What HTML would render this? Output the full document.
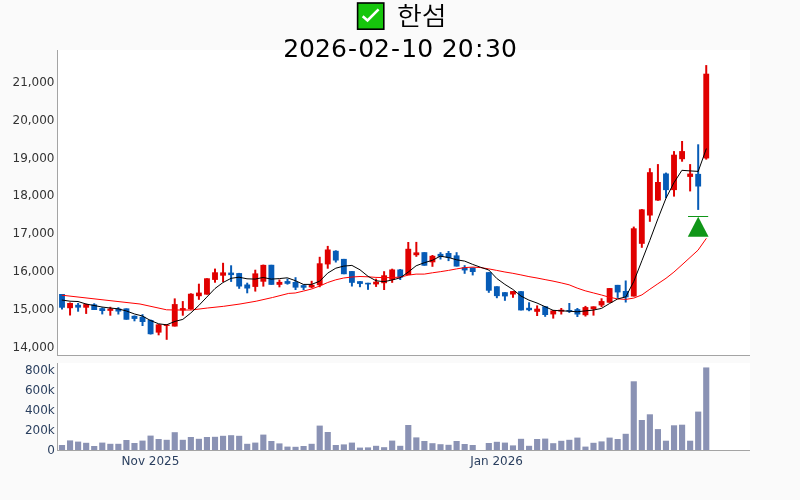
<!DOCTYPE html>
<html lang="ko"><head><meta charset="utf-8"><title>한섬</title>
<style>html,body{margin:0;padding:0;background:#fafafa;}body{width:800px;height:500px;overflow:hidden;}svg{display:block;}text{font-family:"DejaVu Sans","Liberation Sans","Noto Sans CJK KR",sans-serif;}</style></head><body>
<svg width="800" height="500" viewBox="0 0 800 500">
<rect x="0" y="0" width="800" height="500" fill="#fafafa"/>
<rect x="58" y="50" width="692" height="305" fill="#fff"/>
<rect x="58" y="363" width="692" height="87" fill="#fff"/>
<g fill="#8a92b4" shape-rendering="auto">
<rect x="58.93" y="445.00" width="6.14" height="5.00"/>
<rect x="66.98" y="440.40" width="6.14" height="9.60"/>
<rect x="75.04" y="441.60" width="6.14" height="8.40"/>
<rect x="83.09" y="442.80" width="6.14" height="7.20"/>
<rect x="91.14" y="446.00" width="6.14" height="4.00"/>
<rect x="99.20" y="442.60" width="6.14" height="7.40"/>
<rect x="107.25" y="443.80" width="6.14" height="6.20"/>
<rect x="115.30" y="443.80" width="6.14" height="6.20"/>
<rect x="123.35" y="440.00" width="6.14" height="10.00"/>
<rect x="131.41" y="443.00" width="6.14" height="7.00"/>
<rect x="139.46" y="440.60" width="6.14" height="9.40"/>
<rect x="147.51" y="435.60" width="6.14" height="14.40"/>
<rect x="155.57" y="439.00" width="6.14" height="11.00"/>
<rect x="163.62" y="439.80" width="6.14" height="10.20"/>
<rect x="171.67" y="432.20" width="6.14" height="17.80"/>
<rect x="179.73" y="439.80" width="6.14" height="10.20"/>
<rect x="187.78" y="437.00" width="6.14" height="13.00"/>
<rect x="195.83" y="438.80" width="6.14" height="11.20"/>
<rect x="203.88" y="437.00" width="6.14" height="13.00"/>
<rect x="211.94" y="436.80" width="6.14" height="13.20"/>
<rect x="219.99" y="435.80" width="6.14" height="14.20"/>
<rect x="228.04" y="435.20" width="6.14" height="14.80"/>
<rect x="236.10" y="435.80" width="6.14" height="14.20"/>
<rect x="244.15" y="443.80" width="6.14" height="6.20"/>
<rect x="252.20" y="442.60" width="6.14" height="7.40"/>
<rect x="260.26" y="434.60" width="6.14" height="15.40"/>
<rect x="268.31" y="441.00" width="6.14" height="9.00"/>
<rect x="276.36" y="443.40" width="6.14" height="6.60"/>
<rect x="284.41" y="446.60" width="6.14" height="3.40"/>
<rect x="292.47" y="446.80" width="6.14" height="3.20"/>
<rect x="300.52" y="446.00" width="6.14" height="4.00"/>
<rect x="308.57" y="443.80" width="6.14" height="6.20"/>
<rect x="316.63" y="425.60" width="6.14" height="24.40"/>
<rect x="324.68" y="432.00" width="6.14" height="18.00"/>
<rect x="332.73" y="445.00" width="6.14" height="5.00"/>
<rect x="340.79" y="444.40" width="6.14" height="5.60"/>
<rect x="348.84" y="442.60" width="6.14" height="7.40"/>
<rect x="356.89" y="447.60" width="6.14" height="2.40"/>
<rect x="364.94" y="447.40" width="6.14" height="2.60"/>
<rect x="373.00" y="445.80" width="6.14" height="4.20"/>
<rect x="381.05" y="447.20" width="6.14" height="2.80"/>
<rect x="389.10" y="440.60" width="6.14" height="9.40"/>
<rect x="397.16" y="445.80" width="6.14" height="4.20"/>
<rect x="405.21" y="425.00" width="6.14" height="25.00"/>
<rect x="413.26" y="437.40" width="6.14" height="12.60"/>
<rect x="421.32" y="441.00" width="6.14" height="9.00"/>
<rect x="429.37" y="443.20" width="6.14" height="6.80"/>
<rect x="437.42" y="444.20" width="6.14" height="5.80"/>
<rect x="445.47" y="444.80" width="6.14" height="5.20"/>
<rect x="453.53" y="441.00" width="6.14" height="9.00"/>
<rect x="461.58" y="444.00" width="6.14" height="6.00"/>
<rect x="469.63" y="445.00" width="6.14" height="5.00"/>
<rect x="485.74" y="443.00" width="6.14" height="7.00"/>
<rect x="493.79" y="441.80" width="6.14" height="8.20"/>
<rect x="501.85" y="442.60" width="6.14" height="7.40"/>
<rect x="509.90" y="445.40" width="6.14" height="4.60"/>
<rect x="517.95" y="438.80" width="6.14" height="11.20"/>
<rect x="526.00" y="445.80" width="6.14" height="4.20"/>
<rect x="534.06" y="439.00" width="6.14" height="11.00"/>
<rect x="542.11" y="438.60" width="6.14" height="11.40"/>
<rect x="550.16" y="443.20" width="6.14" height="6.80"/>
<rect x="558.22" y="440.80" width="6.14" height="9.20"/>
<rect x="566.27" y="439.80" width="6.14" height="10.20"/>
<rect x="574.32" y="437.60" width="6.14" height="12.40"/>
<rect x="582.38" y="446.60" width="6.14" height="3.40"/>
<rect x="590.43" y="442.80" width="6.14" height="7.20"/>
<rect x="598.48" y="441.40" width="6.14" height="8.60"/>
<rect x="606.53" y="437.60" width="6.14" height="12.40"/>
<rect x="614.59" y="439.00" width="6.14" height="11.00"/>
<rect x="622.64" y="433.80" width="6.14" height="16.20"/>
<rect x="630.69" y="381.30" width="6.14" height="68.70"/>
<rect x="638.75" y="420.00" width="6.14" height="30.00"/>
<rect x="646.80" y="414.30" width="6.14" height="35.70"/>
<rect x="654.85" y="429.10" width="6.14" height="20.90"/>
<rect x="662.90" y="440.70" width="6.14" height="9.30"/>
<rect x="670.96" y="425.30" width="6.14" height="24.70"/>
<rect x="679.01" y="424.70" width="6.14" height="25.30"/>
<rect x="687.06" y="440.70" width="6.14" height="9.30"/>
<rect x="695.12" y="411.60" width="6.14" height="38.40"/>
<rect x="703.17" y="367.45" width="6.14" height="82.55"/>
</g>
<g stroke="#a4a4a4" stroke-width="1" fill="none">
<path d="M57.5,50V355.5"/><path d="M57.5,363V450.5"/><path d="M57,355.5H750"/><path d="M57,450.5H750"/>
</g>
<path d="M62.00,294.00V309.50" stroke="#065bb6" stroke-width="2" fill="none"/>
<rect x="59.08" y="294.00" width="5.85" height="13.70" fill="#065bb6"/>
<path d="M70.05,302.50V315.50" stroke="#e00000" stroke-width="2" fill="none"/>
<rect x="67.13" y="303.00" width="5.85" height="5.20" fill="#e00000"/>
<path d="M78.11,303.00V311.70" stroke="#065bb6" stroke-width="2" fill="none"/>
<rect x="75.18" y="304.80" width="5.85" height="2.80" fill="#065bb6"/>
<path d="M86.16,303.80V313.90" stroke="#e00000" stroke-width="2" fill="none"/>
<rect x="83.23" y="304.10" width="5.85" height="3.60" fill="#e00000"/>
<path d="M94.21,303.30V310.00" stroke="#065bb6" stroke-width="2" fill="none"/>
<rect x="91.29" y="304.40" width="5.85" height="5.60" fill="#065bb6"/>
<path d="M102.27,307.40V314.40" stroke="#065bb6" stroke-width="2" fill="none"/>
<rect x="99.34" y="308.20" width="5.85" height="2.80" fill="#065bb6"/>
<path d="M110.32,306.80V315.70" stroke="#e00000" stroke-width="2" fill="none"/>
<rect x="107.39" y="308.60" width="5.85" height="2.20" fill="#e00000"/>
<path d="M118.37,307.20V314.50" stroke="#065bb6" stroke-width="2" fill="none"/>
<rect x="115.45" y="308.60" width="5.85" height="2.90" fill="#065bb6"/>
<path d="M126.42,308.40V319.70" stroke="#065bb6" stroke-width="2" fill="none"/>
<rect x="123.50" y="308.40" width="5.85" height="11.30" fill="#065bb6"/>
<path d="M134.48,315.50V321.30" stroke="#065bb6" stroke-width="2" fill="none"/>
<rect x="131.55" y="315.80" width="5.85" height="3.10" fill="#065bb6"/>
<path d="M142.53,314.20V326.00" stroke="#065bb6" stroke-width="2" fill="none"/>
<rect x="139.60" y="316.80" width="5.85" height="5.20" fill="#065bb6"/>
<path d="M150.58,319.50V334.50" stroke="#065bb6" stroke-width="2" fill="none"/>
<rect x="147.66" y="320.00" width="5.85" height="14.20" fill="#065bb6"/>
<path d="M158.64,324.10V335.30" stroke="#e00000" stroke-width="2" fill="none"/>
<rect x="155.71" y="324.40" width="5.85" height="8.20" fill="#e00000"/>
<path d="M166.69,324.20V339.80" stroke="#e00000" stroke-width="2" fill="none"/>
<rect x="163.76" y="324.60" width="5.85" height="1.30" fill="#e00000"/>
<path d="M174.74,298.40V326.50" stroke="#e00000" stroke-width="2" fill="none"/>
<rect x="171.82" y="304.10" width="5.85" height="22.40" fill="#e00000"/>
<path d="M182.80,301.10V315.70" stroke="#e00000" stroke-width="2" fill="none"/>
<rect x="179.87" y="308.10" width="5.85" height="2.30" fill="#e00000"/>
<path d="M190.85,293.30V309.70" stroke="#e00000" stroke-width="2" fill="none"/>
<rect x="187.92" y="293.75" width="5.85" height="15.45" fill="#e00000"/>
<path d="M198.90,283.70V299.80" stroke="#e00000" stroke-width="2" fill="none"/>
<rect x="195.98" y="292.60" width="5.85" height="3.60" fill="#e00000"/>
<path d="M206.95,278.30V294.60" stroke="#e00000" stroke-width="2" fill="none"/>
<rect x="204.03" y="278.30" width="5.85" height="16.30" fill="#e00000"/>
<path d="M215.01,268.60V282.70" stroke="#e00000" stroke-width="2" fill="none"/>
<rect x="212.08" y="272.30" width="5.85" height="7.60" fill="#e00000"/>
<path d="M223.06,262.80V282.00" stroke="#e00000" stroke-width="2" fill="none"/>
<rect x="220.13" y="272.40" width="5.85" height="3.30" fill="#e00000"/>
<path d="M231.11,265.30V281.90" stroke="#065bb6" stroke-width="2" fill="none"/>
<rect x="228.19" y="272.60" width="5.85" height="2.50" fill="#065bb6"/>
<path d="M239.17,272.90V288.80" stroke="#065bb6" stroke-width="2" fill="none"/>
<rect x="236.24" y="273.10" width="5.85" height="13.40" fill="#065bb6"/>
<path d="M247.22,282.70V293.30" stroke="#065bb6" stroke-width="2" fill="none"/>
<rect x="244.29" y="284.50" width="5.85" height="4.00" fill="#065bb6"/>
<path d="M255.27,269.70V291.60" stroke="#e00000" stroke-width="2" fill="none"/>
<rect x="252.35" y="273.40" width="5.85" height="13.50" fill="#e00000"/>
<path d="M263.33,264.60V286.60" stroke="#e00000" stroke-width="2" fill="none"/>
<rect x="260.40" y="264.90" width="5.85" height="16.80" fill="#e00000"/>
<path d="M271.38,264.80V284.80" stroke="#065bb6" stroke-width="2" fill="none"/>
<rect x="268.45" y="264.80" width="5.85" height="20.00" fill="#065bb6"/>
<path d="M279.43,279.50V287.30" stroke="#e00000" stroke-width="2" fill="none"/>
<rect x="276.51" y="281.90" width="5.85" height="2.90" fill="#e00000"/>
<path d="M287.48,278.60V284.60" stroke="#065bb6" stroke-width="2" fill="none"/>
<rect x="284.56" y="281.10" width="5.85" height="2.70" fill="#065bb6"/>
<path d="M295.54,277.20V290.00" stroke="#065bb6" stroke-width="2" fill="none"/>
<rect x="292.61" y="282.00" width="5.85" height="5.60" fill="#065bb6"/>
<path d="M303.59,284.40V290.10" stroke="#065bb6" stroke-width="2" fill="none"/>
<rect x="300.67" y="285.20" width="5.85" height="2.50" fill="#065bb6"/>
<path d="M311.64,280.80V288.20" stroke="#e00000" stroke-width="2" fill="none"/>
<rect x="308.72" y="284.80" width="5.85" height="2.60" fill="#e00000"/>
<path d="M319.70,256.80V287.20" stroke="#e00000" stroke-width="2" fill="none"/>
<rect x="316.77" y="263.30" width="5.85" height="21.90" fill="#e00000"/>
<path d="M327.75,245.90V268.70" stroke="#e00000" stroke-width="2" fill="none"/>
<rect x="324.82" y="249.50" width="5.85" height="14.90" fill="#e00000"/>
<path d="M335.80,250.30V262.50" stroke="#065bb6" stroke-width="2" fill="none"/>
<rect x="332.88" y="250.80" width="5.85" height="9.70" fill="#065bb6"/>
<path d="M343.86,258.90V274.20" stroke="#065bb6" stroke-width="2" fill="none"/>
<rect x="340.93" y="258.90" width="5.85" height="15.30" fill="#065bb6"/>
<path d="M351.91,271.10V286.50" stroke="#065bb6" stroke-width="2" fill="none"/>
<rect x="348.98" y="271.10" width="5.85" height="11.70" fill="#065bb6"/>
<path d="M359.96,281.20V287.20" stroke="#065bb6" stroke-width="2" fill="none"/>
<rect x="357.04" y="281.20" width="5.85" height="2.70" fill="#065bb6"/>
<path d="M368.01,282.80V289.80" stroke="#065bb6" stroke-width="2" fill="none"/>
<rect x="365.09" y="282.80" width="5.85" height="1.60" fill="#065bb6"/>
<path d="M376.07,278.70V286.90" stroke="#e00000" stroke-width="2" fill="none"/>
<rect x="373.14" y="281.70" width="5.85" height="2.70" fill="#e00000"/>
<path d="M384.12,271.20V290.00" stroke="#e00000" stroke-width="2" fill="none"/>
<rect x="381.19" y="275.30" width="5.85" height="7.90" fill="#e00000"/>
<path d="M392.17,268.70V282.80" stroke="#e00000" stroke-width="2" fill="none"/>
<rect x="389.25" y="269.50" width="5.85" height="10.30" fill="#e00000"/>
<path d="M400.23,269.00V280.00" stroke="#065bb6" stroke-width="2" fill="none"/>
<rect x="397.30" y="269.50" width="5.85" height="8.10" fill="#065bb6"/>
<path d="M408.28,242.00V275.00" stroke="#e00000" stroke-width="2" fill="none"/>
<rect x="405.35" y="248.80" width="5.85" height="26.20" fill="#e00000"/>
<path d="M416.33,241.90V256.80" stroke="#e00000" stroke-width="2" fill="none"/>
<rect x="413.41" y="252.40" width="5.85" height="2.80" fill="#e00000"/>
<path d="M424.39,252.20V265.70" stroke="#065bb6" stroke-width="2" fill="none"/>
<rect x="421.46" y="252.20" width="5.85" height="13.50" fill="#065bb6"/>
<path d="M432.44,255.00V266.80" stroke="#e00000" stroke-width="2" fill="none"/>
<rect x="429.51" y="255.80" width="5.85" height="6.50" fill="#e00000"/>
<path d="M440.49,252.20V259.50" stroke="#065bb6" stroke-width="2" fill="none"/>
<rect x="437.57" y="253.90" width="5.85" height="2.90" fill="#065bb6"/>
<path d="M448.54,251.00V261.10" stroke="#065bb6" stroke-width="2" fill="none"/>
<rect x="445.62" y="253.00" width="5.85" height="4.90" fill="#065bb6"/>
<path d="M456.60,252.20V266.50" stroke="#065bb6" stroke-width="2" fill="none"/>
<rect x="453.67" y="255.40" width="5.85" height="11.10" fill="#065bb6"/>
<path d="M464.65,265.20V273.80" stroke="#065bb6" stroke-width="2" fill="none"/>
<rect x="461.73" y="267.30" width="5.85" height="3.10" fill="#065bb6"/>
<path d="M472.70,267.60V275.40" stroke="#065bb6" stroke-width="2" fill="none"/>
<rect x="469.78" y="267.60" width="5.85" height="4.40" fill="#065bb6"/>
<path d="M488.81,272.20V292.80" stroke="#065bb6" stroke-width="2" fill="none"/>
<rect x="485.88" y="272.20" width="5.85" height="18.50" fill="#065bb6"/>
<path d="M496.86,286.30V298.20" stroke="#065bb6" stroke-width="2" fill="none"/>
<rect x="493.94" y="286.30" width="5.85" height="9.80" fill="#065bb6"/>
<path d="M504.92,292.20V300.80" stroke="#065bb6" stroke-width="2" fill="none"/>
<rect x="501.99" y="292.20" width="5.85" height="4.20" fill="#065bb6"/>
<path d="M512.97,291.10V297.80" stroke="#e00000" stroke-width="2" fill="none"/>
<rect x="510.04" y="291.10" width="5.85" height="3.40" fill="#e00000"/>
<path d="M521.02,291.20V310.40" stroke="#065bb6" stroke-width="2" fill="none"/>
<rect x="518.10" y="291.20" width="5.85" height="19.20" fill="#065bb6"/>
<path d="M529.07,302.30V311.20" stroke="#065bb6" stroke-width="2" fill="none"/>
<rect x="526.15" y="307.80" width="5.85" height="2.40" fill="#065bb6"/>
<path d="M537.13,305.40V316.00" stroke="#e00000" stroke-width="2" fill="none"/>
<rect x="534.20" y="308.70" width="5.85" height="3.10" fill="#e00000"/>
<path d="M545.18,306.30V316.80" stroke="#065bb6" stroke-width="2" fill="none"/>
<rect x="542.26" y="306.30" width="5.85" height="8.70" fill="#065bb6"/>
<path d="M553.23,310.00V318.60" stroke="#e00000" stroke-width="2" fill="none"/>
<rect x="550.31" y="310.50" width="5.85" height="3.90" fill="#e00000"/>
<path d="M561.29,308.00V314.50" stroke="#e00000" stroke-width="2" fill="none"/>
<rect x="558.36" y="309.70" width="5.85" height="1.90" fill="#e00000"/>
<path d="M569.34,303.00V312.90" stroke="#065bb6" stroke-width="2" fill="none"/>
<rect x="566.41" y="310.00" width="5.85" height="1.60" fill="#065bb6"/>
<path d="M577.39,308.00V317.00" stroke="#065bb6" stroke-width="2" fill="none"/>
<rect x="574.47" y="309.20" width="5.85" height="5.30" fill="#065bb6"/>
<path d="M585.45,305.90V316.50" stroke="#e00000" stroke-width="2" fill="none"/>
<rect x="582.52" y="307.10" width="5.85" height="8.10" fill="#e00000"/>
<path d="M593.50,306.40V315.60" stroke="#e00000" stroke-width="2" fill="none"/>
<rect x="590.57" y="306.40" width="5.85" height="2.80" fill="#e00000"/>
<path d="M601.55,298.30V307.10" stroke="#e00000" stroke-width="2" fill="none"/>
<rect x="598.63" y="301.10" width="5.85" height="4.30" fill="#e00000"/>
<path d="M609.60,288.10V302.70" stroke="#e00000" stroke-width="2" fill="none"/>
<rect x="606.68" y="288.10" width="5.85" height="14.60" fill="#e00000"/>
<path d="M617.66,284.90V297.90" stroke="#065bb6" stroke-width="2" fill="none"/>
<rect x="614.73" y="284.90" width="5.85" height="7.50" fill="#065bb6"/>
<path d="M625.71,280.50V302.50" stroke="#065bb6" stroke-width="2" fill="none"/>
<rect x="622.79" y="291.00" width="5.85" height="6.30" fill="#065bb6"/>
<path d="M633.76,226.60V296.50" stroke="#e00000" stroke-width="2" fill="none"/>
<rect x="630.84" y="228.30" width="5.85" height="68.20" fill="#e00000"/>
<path d="M641.82,209.00V247.80" stroke="#e00000" stroke-width="2" fill="none"/>
<rect x="638.89" y="209.40" width="5.85" height="34.40" fill="#e00000"/>
<path d="M649.87,168.20V221.80" stroke="#e00000" stroke-width="2" fill="none"/>
<rect x="646.94" y="172.20" width="5.85" height="43.30" fill="#e00000"/>
<path d="M657.92,164.10V200.80" stroke="#e00000" stroke-width="2" fill="none"/>
<rect x="655.00" y="182.00" width="5.85" height="18.50" fill="#e00000"/>
<path d="M665.98,172.60V198.20" stroke="#065bb6" stroke-width="2" fill="none"/>
<rect x="663.05" y="173.50" width="5.85" height="16.60" fill="#065bb6"/>
<path d="M674.03,151.10V196.60" stroke="#e00000" stroke-width="2" fill="none"/>
<rect x="671.10" y="154.70" width="5.85" height="35.40" fill="#e00000"/>
<path d="M682.08,141.00V161.70" stroke="#e00000" stroke-width="2" fill="none"/>
<rect x="679.16" y="151.10" width="5.85" height="8.10" fill="#e00000"/>
<path d="M690.13,164.10V191.40" stroke="#e00000" stroke-width="2" fill="none"/>
<rect x="687.21" y="173.60" width="5.85" height="3.30" fill="#e00000"/>
<path d="M698.19,144.30V209.90" stroke="#065bb6" stroke-width="2" fill="none"/>
<rect x="695.26" y="173.90" width="5.85" height="12.60" fill="#065bb6"/>
<path d="M706.24,65.10V159.60" stroke="#e00000" stroke-width="2" fill="none"/>
<rect x="703.32" y="73.70" width="5.85" height="84.70" fill="#e00000"/>
<path fill="none" stroke="#ff0000" stroke-width="1" stroke-linejoin="round" d="M61.8,295.2 L100.0,299.5 L140.0,304.0 L166.6,309.8 L175.0,310.0 L191.2,310.0 L207.5,308.0 L223.7,306.3 L240.0,304.0 L256.2,301.2 L272.5,297.5 L288.7,293.4 L295.2,293.0 L303.4,291.1 L311.6,289.0 L319.7,286.0 L327.7,282.5 L335.8,279.8 L343.7,278.0 L351.9,277.0 L360.0,276.5 L368.0,276.8 L375.9,277.4 L383.9,277.6 L392.0,277.6 L400.0,277.1 L408.1,275.2 L416.1,274.1 L424.3,274.1 L432.4,272.8 L440.3,271.7 L448.5,270.4 L456.6,268.9 L464.7,267.6 L472.7,267.1 L480.7,267.6 L488.8,268.9 L496.7,270.4 L504.9,272.0 L512.8,273.3 L520.9,274.9 L528.9,276.6 L537.0,278.0 L545.1,279.6 L553.0,281.1 L561.2,282.9 L569.1,284.8 L577.2,288.1 L585.2,290.8 L593.3,292.9 L601.5,295.0 L609.6,297.3 L617.7,298.9 L625.8,299.4 L633.8,298.1 L641.9,294.9 L649.9,289.2 L657.8,283.8 L666.0,278.3 L673.9,272.1 L682.0,264.8 L690.0,257.5 L698.0,250.2 L706.4,238.3"/>
<path fill="none" stroke="#000" stroke-width="1" stroke-linejoin="round" d="M61.8,300.0 L70.0,301.2 L78.0,301.5 L86.0,304.0 L94.0,305.5 L102.0,307.0 L110.0,308.0 L118.0,308.8 L126.5,311.0 L134.6,314.0 L142.4,316.0 L150.5,320.5 L158.7,323.8 L166.6,324.8 L175.0,321.4 L182.8,319.4 L190.8,313.0 L198.9,305.4 L206.8,297.1 L215.0,288.5 L222.9,282.6 L231.1,278.3 L239.0,277.2 L247.0,278.8 L255.1,279.1 L263.1,277.5 L271.2,279.1 L279.3,278.6 L287.3,277.8 L295.2,280.6 L303.4,284.4 L311.6,284.4 L319.7,281.2 L327.7,273.1 L335.8,268.2 L343.7,266.1 L351.9,265.4 L360.0,269.8 L368.0,276.3 L375.9,280.7 L383.9,281.7 L392.0,280.0 L400.0,277.9 L408.1,272.2 L416.1,265.8 L424.3,262.7 L432.4,260.3 L440.3,256.2 L448.5,257.5 L456.6,259.8 L464.7,261.1 L472.7,264.4 L480.7,267.3 L488.8,270.0 L496.7,278.4 L504.9,284.4 L512.8,289.4 L520.9,296.0 L528.9,300.1 L537.0,303.0 L545.1,306.7 L553.0,310.3 L561.2,310.8 L569.1,311.2 L577.2,311.8 L585.2,310.9 L593.3,310.1 L601.5,308.4 L609.6,303.5 L617.7,298.9 L625.8,296.9 L633.8,281.4 L641.9,260.7 L649.8,240.4 L657.9,218.8 L666.0,198.2 L673.9,182.8 L681.9,170.3 L690.0,170.9 L698.2,171.4 L706.4,148.5"/>
<path d="M688,216.5H708.2" stroke="#109618" stroke-width="1" fill="none"/>
<path d="M698.2,216.8L708.6,236.7H687.8Z" fill="#109618"/>
<text x="54.5" y="86.0" text-anchor="end" font-size="12" fill="#333">21,000</text>
<text x="54.5" y="123.8" text-anchor="end" font-size="12" fill="#333">20,000</text>
<text x="54.5" y="161.6" text-anchor="end" font-size="12" fill="#333">19,000</text>
<text x="54.5" y="199.4" text-anchor="end" font-size="12" fill="#333">18,000</text>
<text x="54.5" y="237.2" text-anchor="end" font-size="12" fill="#333">17,000</text>
<text x="54.5" y="275.0" text-anchor="end" font-size="12" fill="#333">16,000</text>
<text x="54.5" y="312.8" text-anchor="end" font-size="12" fill="#333">15,000</text>
<text x="54.5" y="350.6" text-anchor="end" font-size="12" fill="#333">14,000</text>
<text x="54.8" y="373.6" text-anchor="end" font-size="12" fill="#2a3f5f">800k</text>
<text x="54.8" y="393.7" text-anchor="end" font-size="12" fill="#2a3f5f">600k</text>
<text x="54.8" y="413.8" text-anchor="end" font-size="12" fill="#2a3f5f">400k</text>
<text x="54.8" y="433.9" text-anchor="end" font-size="12" fill="#2a3f5f">200k</text>
<text x="54.8" y="454.0" text-anchor="end" font-size="12" fill="#2a3f5f">0</text>
<text x="150.5" y="464.6" text-anchor="middle" font-size="12" fill="#2a3f5f">Nov 2025</text>
<text x="496.6" y="464.6" text-anchor="middle" font-size="12" fill="#2a3f5f">Jan 2026</text>
<g role="img" aria-label="✅">
<rect x="357.6" y="3.0" width="26.2" height="26.2" fill="#16c60c" stroke="#000" stroke-width="1.6"/>
<path d="M362.7,16.3L367.5,20.4L378.6,9.3" fill="none" stroke="#fff" stroke-width="2.6" stroke-linecap="butt" stroke-linejoin="miter"/>
</g>
<text transform="translate(397,24.5) scale(1.08,1)" font-size="25" fill="#000" style="font-family:'Noto Sans CJK KR','NanumGothic',sans-serif;font-weight:350">한섬</text>
<text y="57.4" font-size="25" fill="#000"><tspan x="283.21" text-anchor="start">2026</tspan><tspan x="352.46" text-anchor="middle">-</tspan><tspan x="358.14" text-anchor="start">02</tspan><tspan x="395.6" text-anchor="middle">-</tspan><tspan x="401.28" text-anchor="start">10 </tspan><tspan x="441.86" text-anchor="start">20</tspan><tspan x="479.3" text-anchor="middle">:</tspan><tspan x="485.0" text-anchor="start">30</tspan></text>
</svg></body></html>
